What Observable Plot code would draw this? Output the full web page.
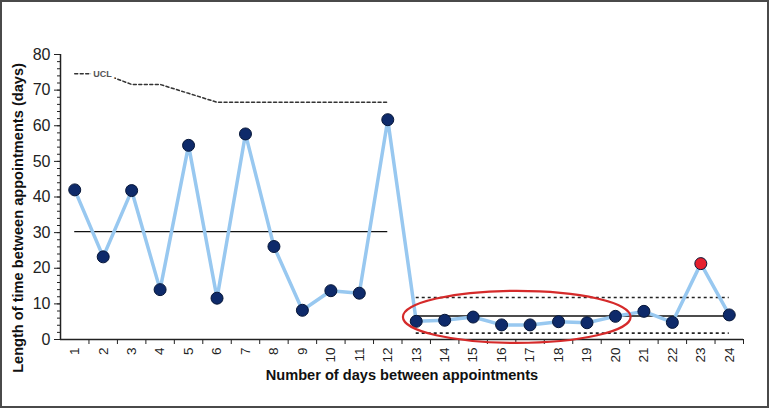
<!DOCTYPE html>
<html><head><meta charset="utf-8">
<script src="https://cdn.jsdelivr.net/npm/d3@7"></script>
<script src="https://cdn.jsdelivr.net/npm/@observablehq/plot@0.6"></script>
<style>
html,body{margin:0;padding:0;background:#fff;}
#chart{width:769px;height:408px;position:relative;font-family:"Liberation Sans",Arial,sans-serif;}
#chart svg{display:block;}
#border{position:absolute;left:0;top:0;width:765px;height:404px;border:2px solid #4a4a4a;pointer-events:none;}
</style></head><body><div id="chart"><div id="border"></div></div>
<script>
// ---- data ----
const days = [1,2,3,4,5,6,7,8,9,10,11,12,13,14,15,16,17,18,19,20,21,22,23,24];
const lengths = [42,23.2,41.8,14,54.5,11.6,57.7,26.1,8.2,13.7,13,61.7,5.1,5.4,6.3,4.1,4.1,5.0,4.7,6.5,7.9,4.8,21.3,6.9];
const signalDays = [23];
const phase1Days = [1,2,3,4,5,6,7,8,9,10,11,12];
const phase1Ucl = [74.6,74.6,71.6,71.6,69.1,66.6,66.6,66.6,66.6,66.6,66.6,66.6];
const phaseStart = [1,13];
const phaseEnd = [12,24];
const phaseCentre = [30.3,6.6];
const phase2Ucl = [11.8];
const phase2Lcl = [1.8];
const yTicks = [0,10,20,30,40,50,60,70,80];
const highlight = [{x1:12.55, x2:20.55, y1:-1.1, y2:13.5}]; // ellipse bounds in data units
const yLabel = "Length of time between appointments (days)";
const xLabel = "Number of days between appointments";

// ---- build ----
const points = days.map((d,i)=>({day:d, value:lengths[i], signal:signalDays.includes(d)}));
const ucl1 = phase1Days.map((d,i)=>({day:d, value:phase1Ucl[i]}));
const phases = phaseStart.map((s,i)=>({start:s, end:phaseEnd[i], cl:phaseCentre[i]}));
const minorY = d3.range(0,81,2);
const boundaries = days.map(d=>d+0.5);

const font = "Liberation Sans, Arial, sans-serif";
const plot = Plot.plot({
  width:769, height:408,
  marginLeft:60, marginRight:26, marginTop:54, marginBottom:69,
  style:{fontFamily:font, background:"transparent", color:"#111"},
  x:{domain:[0.5,24.5]},
  y:{domain:[0,80]},
  marks:[
    // limits & centre lines
    Plot.line(ucl1,{x:"day", y:"value", stroke:"#333", strokeWidth:1.5, strokeDasharray:"3,2.5"}),
    Plot.text(["UCL"],{x:1.65, y:74.6, text:d=>d, textAnchor:"start", fontSize:9, fontWeight:"bold", fill:"#555", stroke:"white", strokeWidth:6}),
    Plot.ruleY(phases,{y:"cl", x1:"start", x2:"end", stroke:"#111", strokeWidth:1.3}),
    Plot.ruleY(phase2Ucl,{x1:13, x2:24, stroke:"#222", strokeWidth:1.6, strokeDasharray:"3,3"}),
    Plot.ruleY(phase2Lcl,{x1:13, x2:24, stroke:"#222", strokeWidth:1.6, strokeDasharray:"3,3"}),
    // axes
    Plot.axisY(minorY,{tickSize:3, tickFormat:()=>"", label:null, stroke:"#222"}),
    Plot.axisY(yTicks,{tickSize:6, tickPadding:4, fontSize:16, label:null, stroke:"#222", fill:"#222"}),
    Plot.axisX(boundaries,{tickSize:5, tickFormat:()=>"", label:null, stroke:"#222"}),
    Plot.text(days,{x:d=>d, frameAnchor:"bottom", dy:8, rotate:-90, textAnchor:"end", lineAnchor:"middle", fontSize:13.5, fill:"#222"}),
    Plot.ruleY([0],{x1:0.5, x2:24.5, stroke:"#222", strokeWidth:1.5}),
    Plot.ruleX([0.5],{y1:0, y2:80, stroke:"#222", strokeWidth:1.5}),
    // data
    Plot.line(points,{x:"day", y:"value", stroke:"#98c8f0", strokeWidth:3.5}),
    Plot.dot(points,{x:"day", y:"value", r:6, fill:d=>d.signal?"#e5202e":"#0e2a6a", stroke:"#061638", strokeWidth:1}),
    // labels
    Plot.text([yLabel],{frameAnchor:"left", dx:-42, dy:21, rotate:-90, textAnchor:"middle", fontSize:14.6, fontWeight:"bold", fill:"#111"}),
    Plot.text([xLabel],{frameAnchor:"bottom", dx:0, dy:40, fontSize:14.6, fontWeight:"bold", fill:"#111"})
  ]
});
// highlight ellipse drawn through the plot's scales
const sx = plot.scale("x"), sy = plot.scale("y");
const svg = d3.select(plot.tagName==="svg"?plot:plot.querySelector("svg"));
highlight.forEach(h=>{
  const X1=sx.apply(h.x1), X2=sx.apply(h.x2), Y1=sy.apply(h.y1), Y2=sy.apply(h.y2);
  svg.append("ellipse").attr("cx",(X1+X2)/2).attr("cy",(Y1+Y2)/2)
    .attr("rx",Math.abs(X2-X1)/2).attr("ry",Math.abs(Y2-Y1)/2)
    .attr("fill","none").attr("stroke","#d52a2a").attr("stroke-width",2.2);
});
document.getElementById("chart").prepend(plot);
</script></body></html>
